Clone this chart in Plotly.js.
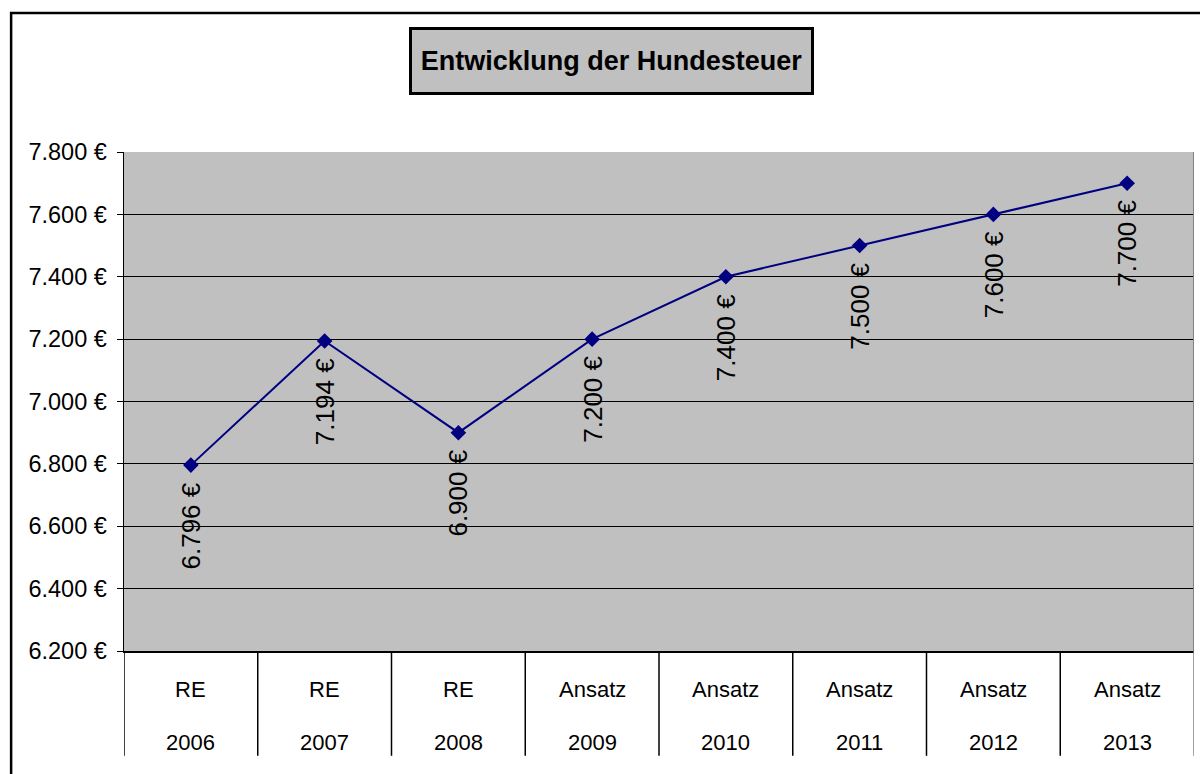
<!DOCTYPE html>
<html>
<head>
<meta charset="utf-8">
<script src="https://cdn.plot.ly/plotly-3.0.1.min.js"></script>
<style>html,body{margin:0;padding:0;background:#fff}#chart{width:1200px;height:774px}</style>
</head>
<body>
<div id="chart"></div>
<script>
const catType = ['RE','RE','RE','Ansatz','Ansatz','Ansatz','Ansatz','Ansatz'];
const catYear = ['2006','2007','2008','2009','2010','2011','2012','2013'];
const values = [6796, 7194, 6900, 7200, 7400, 7500, 7600, 7700];
const valueLabels = ['6.796 €','7.194 €','6.900 €','7.200 €','7.400 €','7.500 €','7.600 €','7.700 €'];
const yTickVals = [6200, 6400, 6600, 6800, 7000, 7200, 7400, 7600, 7800];
const yTickText = ['6.200 €','6.400 €','6.600 €','6.800 €','7.000 €','7.200 €','7.400 €','7.600 €','7.800 €'];
const chartTitle = 'Entwicklung der Hundesteuer';

const xIdx = catYear.map((_, i) => i);
const FONT = 'Liberation Sans, Arial, sans-serif';

const trace = {
  x: xIdx, y: values, type: 'scatter', mode: 'lines+markers',
  line: {color: '#000080', width: 2},
  marker: {symbol: 'diamond', size: 12, color: '#000080'},
  hoverinfo: 'skip'
};

const annotations = [];
xIdx.forEach(i => {
  annotations.push({x: i, y: values[i], xref: 'x', yref: 'y', text: valueLabels[i], textangle: -90,
    showarrow: false, xanchor: 'center', yanchor: 'top', yshift: -15, font: {family: FONT, size: 26, color: '#000'}});
  annotations.push({x: i, y: -0.078, xref: 'x', yref: 'paper', text: catType[i], showarrow: false,
    xanchor: 'center', yanchor: 'middle', font: {family: FONT, size: 22, color: '#000'}});
  annotations.push({x: i, y: -0.183, xref: 'x', yref: 'paper', text: catYear[i], showarrow: false,
    xanchor: 'center', yanchor: 'middle', font: {family: FONT, size: 22, color: '#000'}});
});
annotations.push({x: 0.4557, y: 1.1824, xref: 'paper', yref: 'paper', text: '<b>' + chartTitle + '</b>',
  showarrow: false, xanchor: 'center', yanchor: 'middle', bgcolor: '#c0c0c0', bordercolor: '#000',
  borderwidth: 3, borderpad: 7, width: 385, height: 48, font: {family: FONT, size: 27, color: '#000'}});

const shapes = [];
for (let k = 0; k <= xIdx.length; k++) {
  shapes.push({type: 'line', xref: 'x', yref: 'paper', x0: k - 0.5, x1: k - 0.5, y0: 0, y1: -0.21,
    line: {color: k === xIdx.length ? '#808080' : '#000', width: 1.5}});
}
shapes.push({type: 'line', xref: 'x', yref: 'paper', x0: 7.5, x1: 7.5, y0: 0, y1: 1, line: {color: '#808080', width: 2}});
shapes.push({type: 'rect', xref: 'paper', yref: 'paper', x0: -0.1055, x1: 1.3, y0: -0.5, y1: 1.2786,
  line: {color: '#000', width: 2.5}, layer: 'below'});

const layout = {
  width: 1200, height: 774,
  margin: {l: 124, r: 6, t: 152, b: 123},
  paper_bgcolor: '#fff', plot_bgcolor: '#c0c0c0',
  showlegend: false,
  font: {family: FONT, color: '#000'},
  xaxis: {range: [-0.5, 7.5], showticklabels: false, ticks: '', showgrid: false, zeroline: false,
    showline: true, linecolor: '#000', linewidth: 1.5, fixedrange: true},
  yaxis: {range: [6200, 7800], tickvals: yTickVals, ticktext: yTickText, ticks: 'outside', ticklen: 6,
    tickcolor: '#000', showline: true, linecolor: '#000', linewidth: 1.5, gridcolor: '#000', gridwidth: 1,
    zeroline: false, tickfont: {family: FONT, size: 23.5, color: '#000'}, ticklabelstandoff: 5, fixedrange: true},
  annotations: annotations,
  shapes: shapes
};

Plotly.newPlot('chart', [trace], layout, {displayModeBar: false, staticPlot: true});
</script>
</body>
</html>
